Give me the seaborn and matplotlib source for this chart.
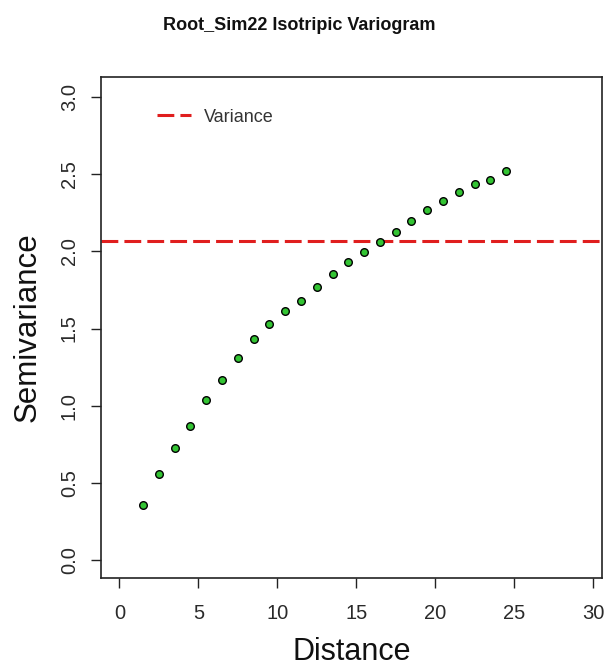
import matplotlib
matplotlib.use("Agg")
import matplotlib.pyplot as plt
import seaborn as sns
import pandas as pd

# Binned lag distances and their semivariance estimates
distance = [1.5, 2.5, 3.5, 4.5, 5.5, 6.5, 7.5, 8.5, 9.5, 10.5, 11.5, 12.5,
            13.5, 14.5, 15.5, 16.5, 17.5, 18.5, 19.5, 20.5, 21.5, 22.5, 23.5, 24.5]
semivariance = [0.356, 0.555, 0.724, 0.870, 1.037, 1.167, 1.309, 1.431, 1.527,
                1.616, 1.681, 1.771, 1.852, 1.929, 1.996, 2.063, 2.126, 2.195,
                2.266, 2.329, 2.385, 2.437, 2.463, 2.521]
sample_variance = 2.069

x_ticks = [0, 5, 10, 15, 20, 25, 30]
y_ticks = [0.0, 0.5, 1.0, 1.5, 2.0, 2.5, 3.0]

df = pd.DataFrame({"Distance": distance, "Semivariance": semivariance})

sns.set_style("white")
plt.rcParams["font.family"] = ["Liberation Sans", "DejaVu Sans"]

fig = plt.figure(figsize=(6.09, 6.66), dpi=100)
ax = fig.add_axes([101 / 609, 1 - 578 / 666, 501 / 609, 501 / 666])

ax.axhline(sample_variance, color="#e01e1e", lw=2.2, dashes=(5.5, 2.0),
           label="Variance", zorder=1)
sns.scatterplot(data=df, x="Distance", y="Semivariance", ax=ax,
                color="#33c433", edgecolor="black", linewidth=1.0,
                s=30, marker="o", zorder=3, legend=False)

ax.set_xlim(-1.17, 30.57)
ax.set_ylim(-0.117, 3.13)
ax.set_xticks(x_ticks)
ax.set_xticklabels([str(v) for v in x_ticks])
ax.set_yticks(y_ticks)
ax.set_yticklabels([f"{v:.1f}" for v in y_ticks], rotation=90, va="center")

ax.tick_params(axis="both", direction="out", length=7, width=1.0,
               colors="#222222", labelsize=14.5, labelcolor="#2a2a2a",
               bottom=True, left=True)
ax.tick_params(axis="x", pad=12)
ax.tick_params(axis="y", pad=9)

for side in ax.spines.values():
    side.set_visible(True)
    side.set_color("#222222")
    side.set_linewidth(1.2)

ax.set_xlabel("Distance", fontsize=22, labelpad=9.5, color="#111111")
ax.set_ylabel("Semivariance", fontsize=22.5, labelpad=12, color="#111111")

fig.text(299 / 609, 1 - 26 / 666, "Root_Sim22 Isotripic Variogram",
         ha="center", va="center", fontsize=13, fontweight="bold",
         color="#111111")

ax.legend(loc="upper left", bbox_to_anchor=(0.112, 0.937), frameon=False,
          borderpad=0, borderaxespad=0, handlelength=1.9,
          handletextpad=0.7, fontsize=13, labelcolor="#333333")

fig.savefig("out.png", dpi=100)
